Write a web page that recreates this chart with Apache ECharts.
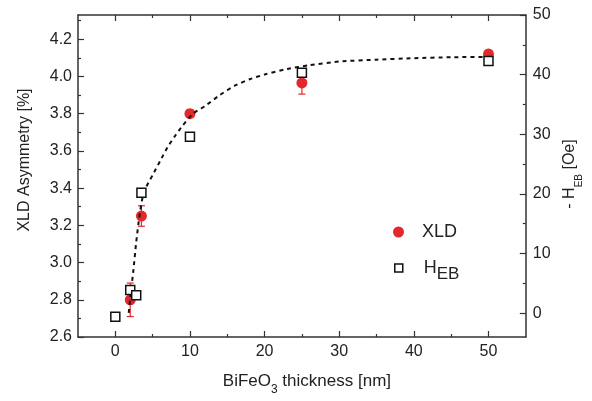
<!DOCTYPE html>
<html><head><meta charset="utf-8">
<script src="https://cdn.jsdelivr.net/npm/echarts@6/dist/echarts.min.js"></script>
<style>html,body{margin:0;padding:0;background:#fff}#c{width:592px;height:401px}</style>
</head><body><div id="c"></div>
<script>
// ---- tick values ----
const xTicks = [0, 10, 20, 30, 40, 50];
const xMinor = [5, 15, 25, 35, 45];
const leftTicks = [2.6, 2.8, 3.0, 3.2, 3.4, 3.6, 3.8, 4.0, 4.2];
const leftMinor = [2.7, 2.9, 3.1, 3.3, 3.5, 3.7, 3.9, 4.1, 4.3];
const rightTicks = [0, 10, 20, 30, 40, 50];
const rightMinor = [5, 15, 25, 35, 45];

// ---- data ----
const xldThickness = [2, 3.5, 10, 25, 50];
const xld = [2.80, 3.25, 3.80, 3.965, 4.12];
const xldErr = [0.09, 0.055, 0.02, 0.06, 0.02];
const hebThickness = [0, 2, 2.8, 3.5, 10, 25, 50];
const heb = [-0.6, 3.9, 3.0, 20.2, 29.6, 40.3, 42.3];
const fitThickness = [1.8, 2.0, 2.4, 2.8, 3.2, 3.6, 4.2, 5.0, 6.0, 7.0, 8.0, 9.0, 10.4, 12.0, 14.0, 16.0, 18.0, 20.0, 23.0, 26.0, 30.0, 35.0, 40.0, 45.0, 50.0];
const fitXld = [2.73, 2.81, 2.95, 3.11, 3.24, 3.34, 3.41, 3.47, 3.545, 3.62, 3.68, 3.735, 3.80, 3.84, 3.90, 3.95, 3.985, 4.01, 4.04, 4.06, 4.08, 4.09, 4.098, 4.103, 4.105];

const FONT = '"Liberation Sans", Arial, sans-serif';
const TXT = '#222';
const AX = '#333';
const RED = '#e2282b';

const chart = echarts.init(document.getElementById('c'), null, {renderer: 'canvas'});

function xAxisDef(pos, ticks, len, showLine, extra) {
  return Object.assign({
    type: 'value', min: -5, max: 55, position: pos,
    axisLine: {show: showLine, onZero: false, lineStyle: {color: AX, width: 1.5}},
    axisTick: {show: true, inside: true, length: len, customValues: ticks, lineStyle: {color: AX, width: 1.2}},
    axisLabel: {show: false},
    splitLine: {show: false}
  }, extra || {});
}
function yAxisDef(pos, min, max, ticks, len, showLine, extra) {
  return Object.assign({
    type: 'value', min: min, max: max, position: pos,
    axisLine: {show: showLine, onZero: false, lineStyle: {color: AX, width: 1.5}},
    axisTick: {show: true, inside: true, length: len, customValues: ticks, lineStyle: {color: AX, width: 1.2}},
    axisLabel: {show: false},
    splitLine: {show: false}
  }, extra || {});
}

const option = {
  animation: false,
  backgroundColor: '#fff',
  textStyle: {fontFamily: FONT},
  grid: {left: 78, top: 15, width: 449, height: 331, containLabel: false},
  xAxis: [
    xAxisDef('bottom', xTicks, 6, true, {
      axisLabel: {show: true, customValues: xTicks, margin: 7, fontSize: 16, color: TXT, fontFamily: FONT},
      name: 'BiFeO{s|3} thickness [nm]', nameLocation: 'middle', nameGap: 29,
      nameTextStyle: {fontSize: 17, color: TXT, fontFamily: FONT, padding: [0, 0, 0, 10],
        rich: {s: {fontSize: 12, color: TXT, fontFamily: FONT, padding: [18, 0, 0, 0]}}}
    }),
    xAxisDef('bottom', xMinor, 3, false),
    xAxisDef('top', xTicks, 6, true),
    xAxisDef('top', xMinor, 3, false)
  ],
  yAxis: [
    yAxisDef('left', 2.6, 4.33, leftTicks, 6, true, {
      axisLabel: {show: true, customValues: leftTicks, margin: 6, fontSize: 16, color: TXT, fontFamily: FONT,
        formatter: v => v.toFixed(1)},
      name: 'XLD Asymmetry [%]', nameLocation: 'middle', nameGap: 45,
      nameTextStyle: {fontSize: 16, color: TXT, fontFamily: FONT, padding: [0, 0, 0, 32]}
    }),
    yAxisDef('right', -4, 50, rightTicks, 6, true, {
      axisLabel: {show: true, customValues: rightTicks, margin: 7, fontSize: 16, color: TXT, fontFamily: FONT},
      name: '- H{s|EB} [Oe]', nameLocation: 'middle', nameGap: 23,
      nameTextStyle: {fontSize: 16, color: TXT, fontFamily: FONT, padding: [0, 0, 0, 4],
        rich: {s: {fontSize: 10, color: TXT, fontFamily: FONT, padding: [19, 0, 0, 0]}}}
    }),
    yAxisDef('left', 2.6, 4.33, leftMinor, 3, false),
    yAxisDef('right', -4, 50, rightMinor, 3, false)
  ],
  legend: [
    {
      data: [{name: 'XLD', icon: 'circle', itemStyle: {color: RED}}],
      left: 393, top: 223, itemWidth: 11, itemHeight: 11, padding: 0,
      formatter: '{t|XLD}',
      textStyle: {color: TXT, fontFamily: FONT, fontSize: 18,
        rich: {t: {fontSize: 18, color: TXT, fontFamily: FONT, padding: [0, 0, 0, 13]}}}
    },
    {
      data: [{name: 'HEB', icon: 'rect', itemStyle: {color: '#fff', borderColor: '#111', borderWidth: 1.5}}],
      left: 394, top: 259, itemWidth: 8, itemHeight: 8, padding: 0,
      formatter: '{t|H}{s|EB}',
      textStyle: {color: TXT, fontFamily: FONT, fontSize: 18,
        rich: {t: {fontSize: 18, color: TXT, fontFamily: FONT, padding: [0, 0, 0, 16]},
               s: {fontSize: 17, color: TXT, fontFamily: FONT, padding: [12, 0, 0, 0]}}}
    }
  ],
  series: [
    {
      type: 'custom', name: 'err', xAxisIndex: 0, yAxisIndex: 0, z: 2,
      data: xldThickness.map((x, i) => [x, xld[i], xldErr[i]]),
      renderItem: function (params, api) {
        const x = api.value(0), y = api.value(1), e = api.value(2);
        const p1 = api.coord([x, y + e]);
        const p2 = api.coord([x, y - e]);
        const st = {stroke: RED, lineWidth: 1.2};
        return {type: 'group', children: [
          {type: 'line', shape: {x1: p1[0], y1: p1[1], x2: p2[0], y2: p2[1]}, style: st},
          {type: 'line', shape: {x1: p1[0] - 3.5, y1: p1[1], x2: p1[0] + 3.5, y2: p1[1]}, style: st},
          {type: 'line', shape: {x1: p2[0] - 3.5, y1: p2[1], x2: p2[0] + 3.5, y2: p2[1]}, style: st}
        ]};
      }
    },
    {
      type: 'scatter', name: 'XLD', xAxisIndex: 0, yAxisIndex: 0, z: 3,
      symbol: 'circle', symbolSize: 11,
      itemStyle: {color: RED, opacity: 1},
      data: xldThickness.map((x, i) => [x, xld[i]])
    },
    {
      type: 'line', name: 'fit', xAxisIndex: 0, yAxisIndex: 0, z: 4,
      showSymbol: false, symbol: 'none', smooth: 0.2,
      lineStyle: {color: '#111', width: 2, type: [4, 4]},
      data: fitThickness.map((x, i) => [x, fitXld[i]])
    },
    {
      type: 'scatter', name: 'HEB', xAxisIndex: 0, yAxisIndex: 1, z: 5,
      symbol: 'rect', symbolSize: 9,
      itemStyle: {color: '#fff', borderColor: '#111', borderWidth: 1.5, opacity: 1},
      data: hebThickness.map((x, i) => [x, heb[i]])
    }
  ]
};
chart.setOption(option);
</script></body></html>
